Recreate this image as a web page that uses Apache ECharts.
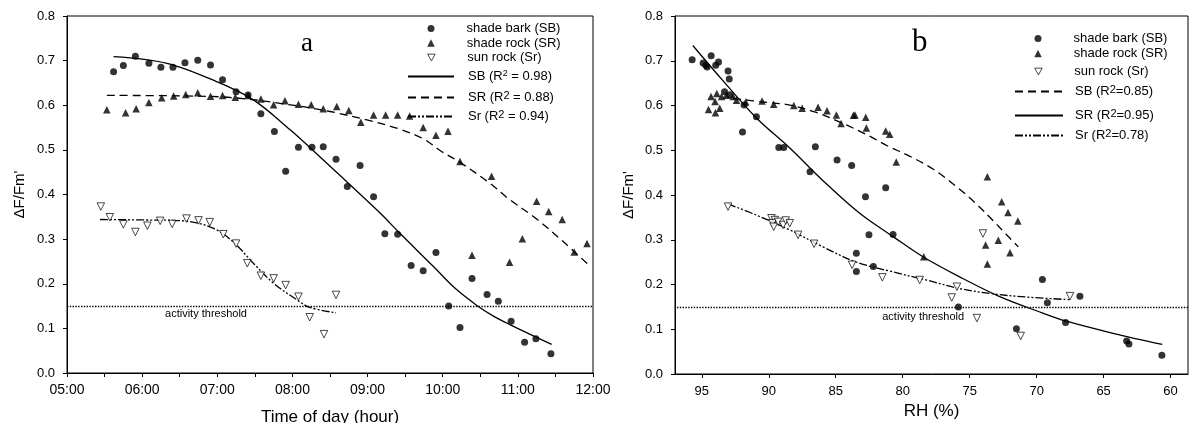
<!DOCTYPE html>
<html><head><meta charset="utf-8">
<script src="https://cdn.jsdelivr.net/npm/echarts@6/dist/echarts.min.js"></script>
<style>html,body{margin:0;padding:0;background:#fff}#c{width:1189px;height:423px}</style>
</head><body><div id="c"></div>
<script>
// ---------- DATA ----------
const yTicks = [0, 0.1, 0.2, 0.3, 0.4, 0.5, 0.6, 0.7, 0.8];
const rhTicks = [95, 90, 85, 80, 75, 70, 65, 60];
const THRESHOLD = 0.15;

// Panel a: time of day (decimal hours) vs ΔF/Fm'
const sbTime = [[5.62,0.675],[5.75,0.689],[5.91,0.710],[6.09,0.694],[6.25,0.685],[6.41,0.685],[6.57,0.695],[6.74,0.701],[6.91,0.690],[7.07,0.657],[7.25,0.630],[7.41,0.623],[7.58,0.581],[7.76,0.541],[7.91,0.452],[8.08,0.506],[8.26,0.506],[8.41,0.507],[8.58,0.479],[8.73,0.418],[8.90,0.465],[9.08,0.395],[9.23,0.312],[9.40,0.311],[9.58,0.241],[9.74,0.229],[9.91,0.270],[10.08,0.150],[10.23,0.102],[10.39,0.212],[10.59,0.176],[10.74,0.161],[10.91,0.116],[11.09,0.069],[11.24,0.077],[11.44,0.043]];
const srTime = [[5.53,0.590],[5.78,0.583],[5.92,0.592],[6.09,0.606],[6.26,0.617],[6.42,0.621],[6.58,0.624],[6.74,0.628],[6.91,0.620],[7.07,0.622],[7.24,0.618],[7.41,0.622],[7.58,0.614],[7.75,0.601],[7.90,0.610],[8.08,0.602],[8.25,0.601],[8.41,0.592],[8.59,0.597],[8.75,0.588],[8.91,0.562],[9.08,0.578],[9.24,0.578],[9.40,0.578],[9.56,0.576],[9.74,0.550],[9.91,0.533],[10.07,0.542],[10.23,0.474],[10.39,0.264],[10.65,0.441],[10.89,0.248],[11.06,0.301],[11.25,0.385],[11.41,0.362],[11.59,0.344],[11.75,0.271],[11.92,0.290]];
const sunTime = [[5.45,0.373],[5.57,0.349],[5.75,0.333],[5.91,0.316],[6.07,0.330],[6.24,0.341],[6.40,0.334],[6.59,0.346],[6.75,0.342],[6.90,0.338],[7.08,0.311],[7.25,0.290],[7.40,0.246],[7.58,0.218],[7.75,0.212],[7.91,0.197],[8.08,0.171],[8.23,0.125],[8.42,0.087],[8.58,0.175]];
const sbFitTime = [[5.62,0.709],[6.33,0.694],[6.99,0.653],[7.48,0.612],[7.97,0.545],[8.35,0.487],[8.72,0.429],[9.17,0.358],[9.43,0.313],[9.88,0.238],[10.15,0.192],[10.45,0.152],[10.68,0.127],[10.90,0.108],[11.45,0.064]];
const srFitTime = [[5.53,0.622],[6.50,0.621],[7.21,0.617],[7.97,0.601],[8.50,0.586],[8.99,0.567],[9.40,0.548],[9.74,0.525],[9.97,0.498],[10.23,0.472],[10.63,0.425],[10.88,0.390],[11.25,0.345],[11.60,0.295],[11.93,0.244]];
const sunFitTime = [[5.44,0.344],[6.00,0.343],[6.55,0.341],[6.95,0.324],[7.21,0.294],[7.48,0.246],[7.75,0.201],[8.06,0.164],[8.23,0.147],[8.58,0.135]];

// Panel b: RH (%) vs ΔF/Fm'
const sbRH = [[95.72,0.702],[94.90,0.695],[94.60,0.686],[94.30,0.711],[94.70,0.690],[93.96,0.690],[93.75,0.697],[93.04,0.677],[92.95,0.659],[93.30,0.631],[92.91,0.624],[91.96,0.541],[91.84,0.601],[90.92,0.575],[89.25,0.506],[88.88,0.506],[86.92,0.452],[86.52,0.508],[84.90,0.478],[83.81,0.466],[82.78,0.396],[81.27,0.416],[83.46,0.270],[83.46,0.229],[82.52,0.311],[82.19,0.240],[80.72,0.312],[75.84,0.150],[71.51,0.101],[69.57,0.211],[69.20,0.159],[67.84,0.115],[66.77,0.174],[63.28,0.074],[63.11,0.067],[60.65,0.042]];
const srRH = [[94.50,0.591],[94.31,0.620],[94.01,0.609],[93.98,0.584],[93.88,0.627],[93.66,0.594],[93.53,0.620],[93.16,0.623],[92.66,0.620],[92.41,0.612],[91.72,0.608],[90.50,0.610],[89.63,0.603],[88.13,0.600],[87.51,0.594],[86.32,0.596],[85.65,0.588],[84.95,0.579],[84.60,0.560],[83.68,0.578],[83.56,0.579],[82.76,0.574],[82.71,0.550],[81.27,0.543],[80.97,0.536],[80.48,0.474],[78.43,0.262],[73.68,0.441],[72.61,0.385],[72.14,0.361],[71.40,0.342],[73.81,0.288],[72.86,0.299],[71.99,0.271],[73.68,0.246]];
const sunRH = [[93.04,0.374],[89.80,0.348],[89.55,0.344],[89.73,0.337],[89.63,0.329],[89.30,0.340],[88.93,0.333],[88.73,0.343],[88.43,0.337],[87.81,0.311],[86.62,0.291],[83.78,0.244],[81.52,0.216],[78.73,0.210],[75.95,0.195],[76.34,0.171],[74.01,0.314],[74.46,0.125],[71.19,0.085],[67.51,0.174]];
const sbFitRH = [[92.66,0.616],[90.50,0.608],[88.43,0.601],[86.50,0.585],[84.46,0.560],[82.50,0.532],[81.16,0.510],[79.50,0.487],[77.74,0.458],[75.75,0.413],[74.50,0.380],[73.26,0.343],[72.30,0.313],[71.37,0.284]];
const srFitRH = [[95.67,0.734],[93.41,0.655],[90.92,0.572],[88.43,0.505],[85.95,0.432],[83.21,0.359],[80.72,0.307],[78.49,0.262],[75.75,0.217],[72.76,0.173],[69.53,0.136],[67.78,0.118],[64.30,0.091],[60.62,0.066]];
const sunFitRH = [[93.04,0.380],[90.92,0.355],[88.43,0.322],[85.95,0.284],[83.46,0.250],[80.72,0.228],[78.24,0.210],[75.75,0.191],[73.26,0.179],[70.77,0.172],[67.50,0.166]];

// names
const N_SB = 'shade bark (SB)', N_SR = 'shade rock (SR)', N_SUN = 'sun rock (Sr)';
const fitNamesA = ['SB (R² = 0.98)', 'SR (R² = 0.88)', 'Sr (R² = 0.94)'];
const fitNamesB = ['SB (R²=0.85)', 'SR (R²=0.95)', 'Sr (R²=0.78)'];

// ---------- STYLE ----------
const FONT = 'Liberation Sans, Arial, sans-serif';
const BLACK = '#000';
const SOLID = {color: BLACK, width: 1.3, type: 'solid'};
const DASHED = {color: BLACK, width: 1.3, type: [8, 5]};
const DASHDOT = {color: BLACK, width: 1.3, type: [8, 2, 2, 2, 2, 2]};
const INV_TRI = 'path://M0,0 L10,0 L5,9 Z';

const chart = echarts.init(document.getElementById('c'), null, {renderer: 'canvas'});

function yAxis(grid, gap) {
  return {
    type: 'value', gridIndex: grid, min: 0, max: 0.8, interval: 0.1,
    axisLine: {show: true, lineStyle: {color: BLACK, width: 1}},
    axisTick: {show: true, length: 4, lineStyle: {color: BLACK}},
    axisLabel: {formatter: v => v.toFixed(1), fontSize: 13, color: BLACK, margin: 12, fontFamily: FONT},
    splitLine: {show: false},
    name: "ΔF/Fm'", nameLocation: 'middle', nameGap: gap,
    nameTextStyle: {fontSize: 15, color: BLACK, fontFamily: FONT}
  };
}

function scatter(name, data, xi, kind) {
  const s = {
    type: 'scatter', name, data, xAxisIndex: xi, yAxisIndex: xi,
    symbolSize: 7, itemStyle: {color: BLACK}, z: 3
  };
  if (kind === 'circle') s.symbol = 'circle';
  if (kind === 'tri') { s.symbol = 'triangle'; s.symbolSize = 7.5; }
  if (kind === 'inv') {
    s.symbol = 'triangle'; s.symbolRotate = 180; s.symbolSize = 7.5;
    s.itemStyle = {color: '#fff', borderColor: BLACK, borderWidth: 0.9};
  }
  return s;
}
function fit(name, data, xi, ls) {
  return {
    type: 'line', name, data, xAxisIndex: xi, yAxisIndex: xi,
    smooth: 0.35, symbol: 'none', showSymbol: false,
    lineStyle: ls, itemStyle: {color: BLACK}, z: 2
  };
}

const rich = {
  g: {width: 9},
  g2: {width: 7},
  gs: {width: 27},
  t: {fontSize: 13, lineHeight: 14, color: BLACK, fontFamily: FONT},
  s: {fontSize: 9, lineHeight: 10, color: BLACK, fontFamily: FONT, verticalAlign: 'top', padding: [0, 0, 8, 0]},
  S: {fontSize: 11, lineHeight: 12, color: BLACK, fontFamily: FONT, verticalAlign: 'top', padding: [0, 0, 8, 0]}
};
function fmt(spacer, supStyle) {
  return function (name) {
    const parts = name.split('²');
    if (parts.length === 1) return '{' + spacer + '| }{t|' + name + '}';
    return '{' + spacer + '| }{t|' + parts[0] + '}{' + supStyle + '|2}{t|' + parts[1] + '}';
  };
}
// marker-type legend entry (symbol only)
function legendMark(name, cx, cy, size, icon) {
  const item = icon ? {name: name, icon: icon, itemStyle: {color: '#fff', borderColor: BLACK, borderWidth: 0.9}} : name;
  return {
    data: [item], left: cx - size / 2, top: cy - 7, orient: 'vertical', padding: 0,
    itemWidth: size, itemHeight: size, itemGap: 0, selectedMode: false,
    textStyle: {color: BLACK, fontSize: 13, fontFamily: FONT, rich: rich},
    formatter: fmt('gs', 'S')
  };
}
// line-type legend entry (line sample only)
function legendLine(name, left, cy, w, spacer, supStyle) {
  return {
    data: [name], left: left, top: cy - 10, orient: 'vertical', padding: 0,
    itemWidth: w, itemHeight: 14, itemGap: 0, selectedMode: false,
    itemStyle: {opacity: 0},
    textStyle: {color: BLACK, fontSize: 13, fontFamily: FONT, rich: rich},
    formatter: fmt(spacer, supStyle)
  };
}

const legends = [
  legendMark(N_SB, 431, 29, 7),
  legendMark(N_SR, 431, 43.5, 7.5),
  legendMark(N_SUN, 431, 58, 7.5, INV_TRI),
  legendLine(fitNamesA[0], 407, 79.5, 46, 'g', 's'),
  legendLine(fitNamesA[1], 407, 100.5, 46, 'g', 'S'),
  legendLine(fitNamesA[2], 407, 119.5, 46, 'g', 'S'),
  legendMark(N_SB, 1038, 39, 7),
  legendMark(N_SR, 1038, 54, 7.5),
  legendMark(N_SUN, 1038, 72, 7.5, INV_TRI),
  legendLine(fitNamesB[0], 1014, 94.5, 48, 'g2', 'S'),
  legendLine(fitNamesB[1], 1014, 118.5, 48, 'g2', 'S'),
  legendLine(fitNamesB[2], 1014, 138.5, 48, 'g2', 'S')
];

function threshold(xi, labelX, dist) {
  return {
    type: 'scatter', name: 'activity threshold', data: [], xAxisIndex: xi, yAxisIndex: xi,
    markLine: {
      silent: true, symbol: ['none', 'none'], label: {show: false},
      lineStyle: {color: BLACK, type: 'dotted', width: 1.4},
      data: [{yAxis: THRESHOLD}]
    },
    markPoint: {
      silent: true, symbol: 'circle', symbolSize: 1, itemStyle: {color: 'rgba(0,0,0,0)'},
      label: {show: true, position: 'bottom', distance: dist, formatter: 'activity threshold',
        fontSize: 11, color: BLACK, fontFamily: FONT},
      data: [{coord: [labelX, THRESHOLD]}]
    }
  };
}

const option = {
  backgroundColor: '#fff',
  animation: false,
  grid: [
    {left: 67, top: 16, width: 526, height: 357, show: true, borderColor: BLACK, borderWidth: 1, outerBoundsMode: 'none', containLabel: false},
    {left: 675, top: 16, width: 513, height: 358, show: true, borderColor: BLACK, borderWidth: 1, outerBoundsMode: 'none', containLabel: false}
  ],
  xAxis: [
    {
      type: 'value', gridIndex: 0, min: 5, max: 12, interval: 1,
      axisLine: {show: true, onZero: false, lineStyle: {color: BLACK, width: 1}},
      axisTick: {show: true, length: 4, lineStyle: {color: BLACK}},
      minorTick: {show: true, splitNumber: 2, length: 4, lineStyle: {color: BLACK}},
      axisLabel: {formatter: h => (h < 10 ? '0' : '') + h + ':00', fontSize: 14, color: BLACK, margin: 10, fontFamily: FONT},
      splitLine: {show: false}, minorSplitLine: {show: false},
      name: 'Time of day (hour)', nameLocation: 'middle', nameGap: 36,
      nameTextStyle: {fontSize: 17, color: BLACK, fontFamily: FONT}
    },
    {
      type: 'value', gridIndex: 1, min: 58.7, max: 97, inverse: true,
      axisLine: {show: true, onZero: false, lineStyle: {color: BLACK, width: 1}},
      axisTick: {show: true, length: 4, lineStyle: {color: BLACK}, customValues: rhTicks},
      axisLabel: {fontSize: 13, color: BLACK, margin: 11, fontFamily: FONT, customValues: rhTicks},
      splitLine: {show: false},
      name: 'RH (%)', nameLocation: 'middle', nameGap: 28,
      nameTextStyle: {fontSize: 17, color: BLACK, fontFamily: FONT}
    }
  ],
  yAxis: [yAxis(0, 40), yAxis(1, 39)],
  legend: legends,
  graphic: [
    {type: 'text', left: 301, top: 30, style: {text: 'a', font: '27px "Liberation Serif", serif', fill: BLACK}},
    {type: 'text', left: 912, top: 27, style: {text: 'b', font: '31px "Liberation Serif", serif', fill: BLACK}}
  ],
  series: [
    threshold(0, 6.85, 2),
    scatter(N_SB, sbTime, 0, 'circle'),
    scatter(N_SR, srTime, 0, 'tri'),
    scatter(N_SUN, sunTime, 0, 'inv'),
    fit(fitNamesA[0], sbFitTime, 0, SOLID),
    fit(fitNamesA[1], srFitTime, 0, DASHED),
    fit(fitNamesA[2], sunFitTime, 0, DASHDOT),
    threshold(1, 78.47, 4),
    scatter(N_SB, sbRH, 1, 'circle'),
    scatter(N_SR, srRH, 1, 'tri'),
    scatter(N_SUN, sunRH, 1, 'inv'),
    fit(fitNamesB[0], sbFitRH, 1, DASHED),
    fit(fitNamesB[1], srFitRH, 1, SOLID),
    fit(fitNamesB[2], sunFitRH, 1, DASHDOT)
  ]
};
chart.setOption(option);
</script>
</body></html>
